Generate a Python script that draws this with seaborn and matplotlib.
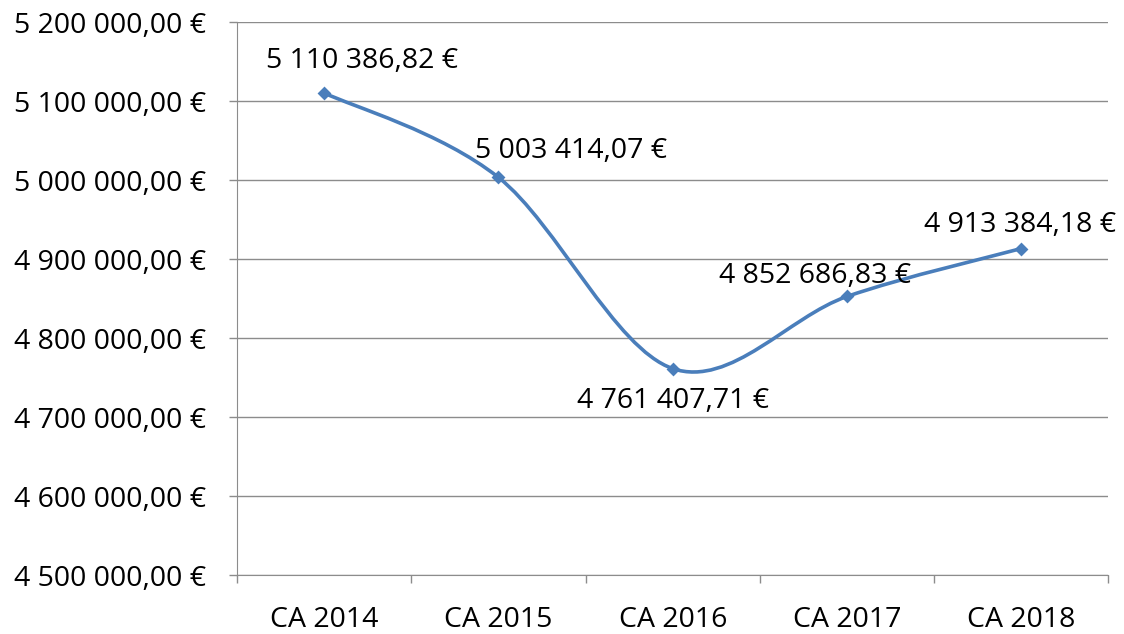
import matplotlib
matplotlib.use("Agg")
import matplotlib.pyplot as plt
import seaborn as sns
import numpy as np
import pandas as pd
from matplotlib.path import Path
from matplotlib.patches import PathPatch
from matplotlib.ticker import FuncFormatter, FixedLocator

years = ["CA 2014", "CA 2015", "CA 2016", "CA 2017", "CA 2018"]
revenue = [5110386.82, 5003414.07, 4761407.71, 4852686.83, 4913384.18]

# label offsets in points (dx, dy)
label_offsets = [(27, 23), (52, 19), (0, -23), (-23, 15), (-1, 17)]

LINE = "#4A7EBB"
GRID = "#8C8C8C"
FS = 20.5


def euro(v, pos=None):
    s = f"{v:,.2f}".replace(",", " ").replace(".", ",")
    return s + " €"


def smooth_path(xs, ys):
    # Catmull-Rom style bezier, like the smoothed line of a spreadsheet chart
    pts = np.column_stack([xs, ys])
    ext = np.vstack([pts[0], pts, pts[-1]])
    verts = [tuple(pts[0])]
    codes = [Path.MOVETO]
    for i in range(len(pts) - 1):
        p0, p1, p2, p3 = ext[i], ext[i + 1], ext[i + 2], ext[i + 3]
        c1 = p1 + (p2 - p0) / 6
        c2 = p2 - (p3 - p1) / 6
        verts += [tuple(c1), tuple(c2), tuple(p2)]
        codes += [Path.CURVE4] * 3
    return Path(verts, codes)


sns.set_style("white")
plt.rcParams["font.family"] = ["Open Sans", "DejaVu Sans"]

df = pd.DataFrame({"year": years, "value": revenue})
df["pos"] = range(len(years))

fig = plt.figure(figsize=(11.24, 6.34), dpi=100)
ax = fig.add_axes([0.211, 0.093, 0.775, 0.872])

ax.add_patch(PathPatch(smooth_path(df["pos"].values, df["value"].values),
                       facecolor="none", edgecolor=LINE, lw=2.6, zorder=3))
sns.scatterplot(data=df, x="pos", y="value", marker="D", s=50, color=LINE,
                edgecolor=LINE, linewidth=0, ax=ax, zorder=4)

for (x, y), (dx, dy) in zip(zip(df["pos"], df["value"]), label_offsets):
    ax.annotate(euro(y), (x, y), xytext=(dx, dy), textcoords="offset points",
                ha="center", va="center", fontsize=FS, color="black", zorder=5)

ax.set_ylim(4500000, 5200000)
ax.set_yticks(np.arange(4500000, 5200001, 100000))
ax.yaxis.set_major_formatter(FuncFormatter(euro))
ax.set_xlim(-0.5, len(years) - 0.5)
ax.set_xticks(df["pos"])
ax.set_xticklabels(years)
ax.xaxis.set_minor_locator(FixedLocator(np.arange(-0.5, len(years), 1.0)))

ax.grid(axis="y", color=GRID, lw=1.0)
ax.set_axisbelow(True)
for side in ["top", "right"]:
    ax.spines[side].set_visible(False)
ax.spines["left"].set_color(GRID)
ax.spines["bottom"].set_color(GRID)
ax.tick_params(axis="y", which="major", length=6, color=GRID, width=1,
               labelsize=FS, labelcolor="black", pad=16, left=True)
ax.tick_params(axis="x", which="major", length=0, labelsize=FS,
               labelcolor="black", pad=22)
ax.tick_params(axis="x", which="minor", length=6, color=GRID, width=1, bottom=True)
ax.set_xlabel("")
ax.set_ylabel("")

fig.savefig("out.png", dpi=100)
